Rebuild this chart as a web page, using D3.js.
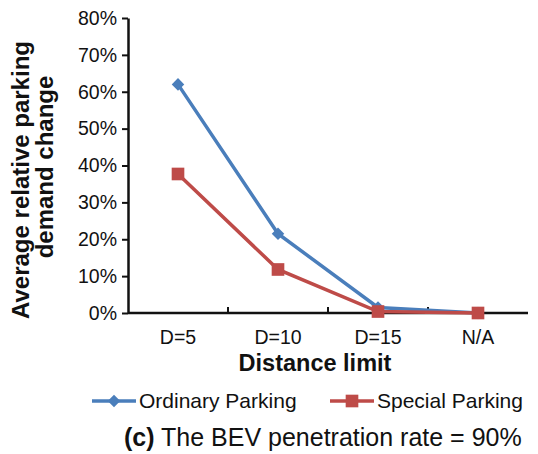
<!DOCTYPE html>
<html>
<head>
<meta charset="utf-8">
<script src="https://cdn.jsdelivr.net/npm/d3@7"></script>
<style>
	body { margin: 0; background: #fff; }
	text { font-family: "Liberation Sans", Arial, sans-serif; fill: #111; }
</style>
</head>
<body>
<div id="chart"></div>
<script>
// values
var categories = ["D=5", "D=10", "D=15", "N/A"];
var ordinaryParking = [0.62, 0.215, 0.015, 0.0];
var specialParking = [0.377, 0.118, 0.004, 0.0];
var yTicks = [0, 0.1, 0.2, 0.3, 0.4, 0.5, 0.6, 0.7, 0.8];

var width = 538, height = 454;
var plotLeft = 128, plotRight = 528, plotTop = 18, plotBottom = 313;

var blue = "#4a7ebb", red = "#be4b48";

var svg = d3.select("#chart").append("svg")
	.attr("width", width)
	.attr("height", height);

var x = d3.scaleBand()
	.domain(categories)
	.range([plotLeft, plotRight]);

var y = d3.scaleLinear()
	.domain([0, 0.8])
	.range([plotBottom, plotTop]);

// y axis
var yAxis = svg.append("g")
	.attr("transform", "translate(" + plotLeft + ",0)")
	.call(d3.axisLeft(y).tickValues(yTicks).tickFormat(d3.format(".0%")).tickSize(6).tickSizeOuter(0));
yAxis.select(".domain").attr("stroke", "#111").attr("stroke-width", 2.5);
yAxis.selectAll(".tick line").attr("stroke", "#111").attr("stroke-width", 2);
yAxis.selectAll(".tick text")
	.attr("x", -11)
	.style("font-size", "19.5px")
	.style("font-family", "Liberation Sans, Arial, sans-serif")
	.style("fill", "#111");

// x axis (ticks between categories, pointing up)
var xAxis = svg.append("g")
	.attr("transform", "translate(0," + plotBottom + ")");
xAxis.append("line")
	.attr("x1", plotLeft).attr("x2", plotRight)
	.attr("stroke", "#111").attr("stroke-width", 2.5);
xAxis.selectAll(".sep")
	.data(categories.slice(1))
	.enter().append("line")
	.attr("class", "sep")
	.attr("x1", function(d) { return x(d); })
	.attr("x2", function(d) { return x(d); })
	.attr("y1", 0).attr("y2", -6)
	.attr("stroke", "#111").attr("stroke-width", 2);
xAxis.selectAll(".lab")
	.data(categories)
	.enter().append("text")
	.attr("class", "lab")
	.attr("x", function(d) { return x(d) + x.bandwidth() / 2; })
	.attr("y", 31)
	.attr("text-anchor", "middle")
	.style("font-size", "19.5px")
	.text(function(d) { return d; });

// axis titles
svg.append("text")
	.attr("x", 315)
	.attr("y", 371)
	.attr("text-anchor", "middle")
	.style("font-size", "23.5px")
	.style("font-weight", "bold")
	.text("Distance limit");

svg.append("text")
	.attr("transform", "translate(29,180) rotate(-90)")
	.attr("text-anchor", "middle")
	.style("font-size", "24px")
	.style("font-weight", "bold")
	.text("Average relative parking");
svg.append("text")
	.attr("transform", "translate(53,167) rotate(-90)")
	.attr("text-anchor", "middle")
	.style("font-size", "24px")
	.style("font-weight", "bold")
	.text("demand change");

// series
var line = d3.line()
	.x(function(d, i) { return x(categories[i]) + x.bandwidth() / 2; })
	.y(function(d) { return y(d); });

svg.append("path")
	.datum(ordinaryParking)
	.attr("d", line)
	.attr("fill", "none")
	.attr("stroke", blue)
	.attr("stroke-width", 3.5);

svg.append("path")
	.datum(specialParking)
	.attr("d", line)
	.attr("fill", "none")
	.attr("stroke", red)
	.attr("stroke-width", 3.5);

var diamond = d3.symbol().type(d3.symbolDiamond2).size(100);
var square = d3.symbol().type(d3.symbolSquare).size(160);

svg.selectAll(".ord")
	.data(ordinaryParking)
	.enter().append("path")
	.attr("class", "ord")
	.attr("d", diamond)
	.attr("fill", blue)
	.attr("transform", function(d, i) {
		return "translate(" + (x(categories[i]) + x.bandwidth() / 2) + "," + y(d) + ")";
	});

svg.selectAll(".spe")
	.data(specialParking)
	.enter().append("path")
	.attr("class", "spe")
	.attr("d", square)
	.attr("fill", red)
	.attr("transform", function(d, i) {
		return "translate(" + (x(categories[i]) + x.bandwidth() / 2) + "," + y(d) + ")";
	});

// legend
var legend = svg.append("g").attr("transform", "translate(0,401)");
var items = [
	{name: "Ordinary Parking", color: blue, sym: diamond, x: 92},
	{name: "Special Parking", color: red, sym: square, x: 330}
];
items.forEach(function(it) {
	legend.append("line")
		.attr("x1", it.x).attr("x2", it.x + 44)
		.attr("stroke", it.color).attr("stroke-width", 3.5);
	legend.append("path")
		.attr("d", it.sym)
		.attr("fill", it.color)
		.attr("transform", "translate(" + (it.x + 22) + ",0)");
	legend.append("text")
		.attr("x", it.x + 47)
		.attr("y", 7)
		.style("font-size", "21px")
		.text(it.name);
});

// caption
var cap = svg.append("text")
	.attr("x", 124)
	.attr("y", 446)
	.style("font-size", "25px");
cap.append("tspan").style("font-weight", "bold").text("(c)");
cap.append("tspan").text(" The BEV penetration rate = 90%");
</script>
</body>
</html>
